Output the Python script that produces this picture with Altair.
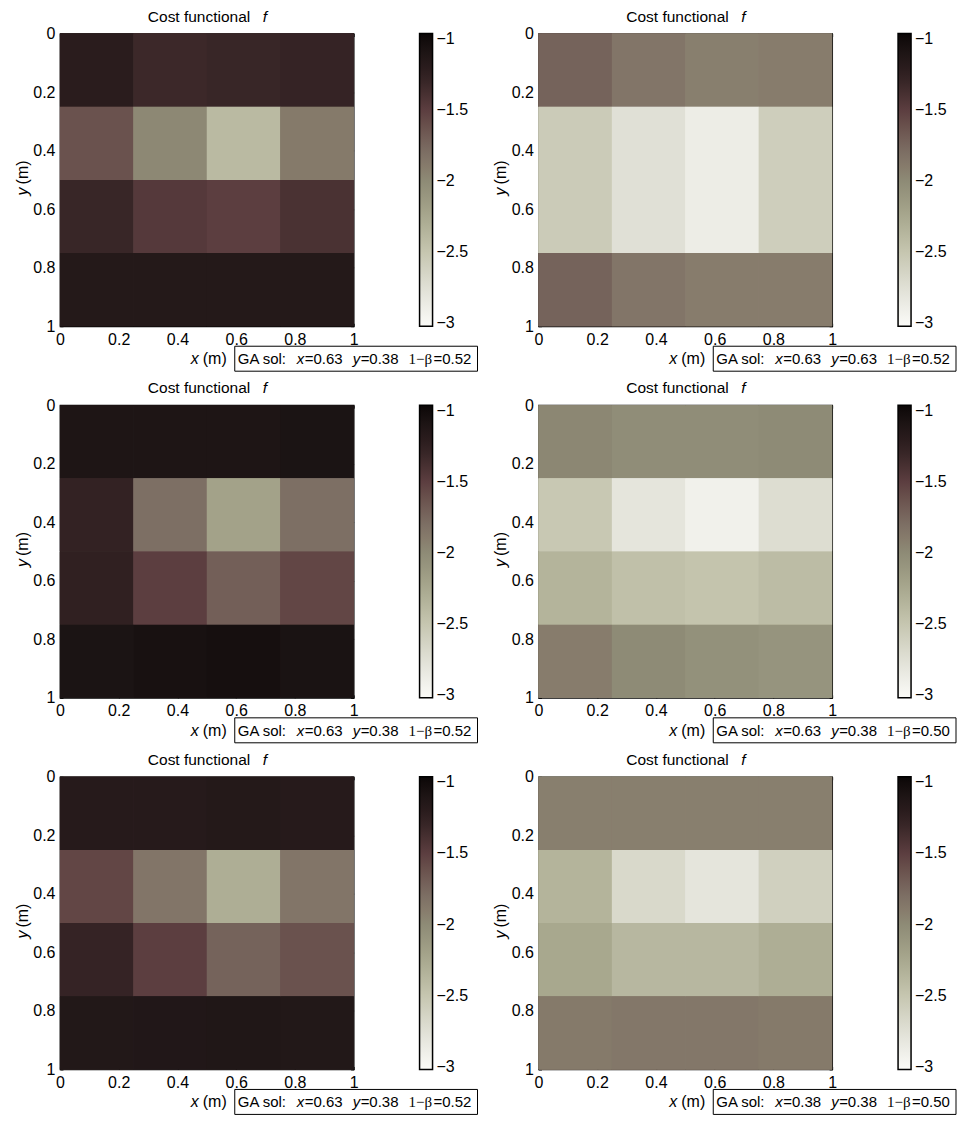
import altair as alt
import pandas as pd

# ---- data ----
X_EDGES = [0.0, 0.25, 0.5, 0.75, 1.0]
Y_EDGES = [0.0, 0.25, 0.5, 0.75, 1.0]
AXIS_TICKS = [0, 0.2, 0.4, 0.6, 0.8, 1]
CBAR_TICKS = [-3, -2.5, -2, -1.5, -1]
CMAP_STOPS = [-3.02, -2.75, -2.5, -2.25, -2.0, -1.75, -1.5, -1.25, -0.96]
CMAP_COLORS = ["#fbfbf8", "#e0e0d6", "#c6c6b0", "#a8a88e", "#8e8b76",
               "#786860", "#5c3e40", "#302021", "#0a0606"]

P1 = [[-1.20, -1.32, -1.30, -1.28],
      [-1.62, -1.98, -2.40, -1.88],
      [-1.30, -1.46, -1.50, -1.40],
      [-1.15, -1.15, -1.15, -1.15]]
P2 = [[-1.72, -1.85, -1.92, -1.90],
      [-2.55, -2.75, -2.88, -2.58],
      [-2.55, -2.75, -2.88, -2.58],
      [-1.72, -1.85, -1.90, -1.90]]
P3 = [[-1.10, -1.10, -1.10, -1.08],
      [-1.27, -1.80, -2.20, -1.80],
      [-1.25, -1.50, -1.70, -1.55],
      [-1.08, -1.05, -1.03, -1.07]]
P4 = [[-1.97, -2.02, -2.02, -2.00],
      [-2.52, -2.80, -2.92, -2.72],
      [-2.35, -2.45, -2.48, -2.42],
      [-1.90, -2.00, -2.05, -2.08]]
P5 = [[-1.17, -1.17, -1.15, -1.17],
      [-1.55, -1.85, -2.30, -1.85],
      [-1.28, -1.50, -1.72, -1.62],
      [-1.14, -1.13, -1.12, -1.14]]
P6 = [[-1.92, -1.92, -1.92, -1.92],
      [-2.35, -2.68, -2.80, -2.60],
      [-2.25, -2.38, -2.38, -2.30],
      [-1.88, -1.86, -1.86, -1.88]]
PANELS = [P1, P2, P3, P4, P5, P6]
GA_X = [0.63, 0.63, 0.63, 0.63, 0.63, 0.38]
GA_Y = [0.38, 0.63, 0.38, 0.38, 0.38, 0.38]
GA_B = [0.52, 0.52, 0.52, 0.50, 0.52, 0.50]

FONT = "Liberation Sans"
SERIF = "Liberation Serif"
FS = 16
FS_TITLE = 15.5
FS_BOX = 15
W, H = 294, 293
CB_X = 360       # colorbar left edge (px from plot left)
CB_T = 13        # colorbar thickness


def text_layer(df, x, y, text, italic=False, font=FONT, angle=0,
               align="left", size=FS):
    kw = dict(align=align, baseline="middle", font=font, fontSize=size,
              fontStyle="italic" if italic else "normal", color="black")
    if angle:
        kw["angle"] = angle
    return alt.Chart(df).mark_text(**kw).encode(
        x=alt.value(x), y=alt.value(y), text=text)


def panel(F, gx, gy, gb):
    rows = []
    for i in range(4):
        for j in range(4):
            rows.append(dict(x0=X_EDGES[j], x1=X_EDGES[j + 1],
                             y0=Y_EDGES[i], y1=Y_EDGES[i + 1], f=F[i][j]))
    df = pd.DataFrame(rows)
    ann = pd.DataFrame({"gx": [f"={gx:.2f}"], "gy": [f"={gy:.2f}"],
                        "gb": [f"={gb:.2f}"]})
    cb = pd.DataFrame({"v": CBAR_TICKS})

    xs = alt.Scale(domain=[0, 1], nice=False, zero=False)
    ys = alt.Scale(domain=[0, 1], reverse=True, nice=False, zero=False)
    cs = alt.Scale(domain=CMAP_STOPS, range=CMAP_COLORS, type="linear",
                   clamp=True)
    cbs = alt.Scale(domain=[CMAP_STOPS[0], CMAP_STOPS[-1]], nice=False,
                    zero=False)
    common = dict(values=AXIS_TICKS, tickSize=3, offset=-3, domain=False,
                  grid=False, tickColor="black", tickWidth=1, title=None,
                  minExtent=0)
    lab = dict(labelFont=FONT, labelFontSize=FS, labelColor="black",
               format="~g", labelFlush=False, labelOverlap=False)

    legend = alt.Legend(
        orient="none", legendX=CB_X, legendY=0, direction="vertical",
        gradientLength=H, gradientThickness=CB_T, values=CBAR_TICKS,
        format="~g", labelFont=FONT, labelFontSize=FS, labelColor="black",
        labelOffset=4, gradientStrokeColor="black", gradientStrokeWidth=1.5,
        title=None, padding=0, labelOverlap=False)
    heat = alt.Chart(df).mark_rect().encode(
        x=alt.X("x0:Q", scale=xs,
                axis=alt.Axis(orient="bottom", labelPadding=5, **lab, **common)),
        x2="x1:Q",
        y=alt.Y("y0:Q", scale=ys,
                axis=alt.Axis(orient="left", labelPadding=5, **lab, **common)),
        y2="y1:Q",
        color=alt.Color("f:Q", scale=cs, legend=legend),
    )
    # the same cells drawn again on top (no axes), so that no background
    # shows through the anti-aliased seams between adjacent cells
    heat_b = alt.Chart(df).mark_rect().encode(
        x=alt.X("x0:Q", scale=xs, axis=None),
        x2="x1:Q",
        y=alt.Y("y0:Q", scale=ys, axis=None),
        y2="y1:Q",
        color=alt.Color("f:Q", scale=cs, legend=legend),
    )
    frame = alt.Chart(df).mark_rect(opacity=0).encode(
        x=alt.X("x0:Q", scale=xs,
                axis=alt.Axis(orient="top", labels=False, **common)),
        x2="x1:Q",
        y=alt.Y("y0:Q", scale=ys,
                axis=alt.Axis(orient="right", labels=False, **common)),
        y2="y1:Q",
    )
    # inner tick marks of the colour bar (both sides)
    cb_left = alt.Chart(cb).mark_rule(color="black", strokeWidth=1).encode(
        y=alt.Y("v:Q", scale=cbs, axis=None),
        x=alt.value(CB_X), x2=alt.value(CB_X + 3))
    cb_right = alt.Chart(cb).mark_rule(color="black", strokeWidth=1).encode(
        y=alt.Y("v:Q", scale=cbs, axis=None),
        x=alt.value(CB_X + CB_T - 3), x2=alt.value(CB_X + CB_T))

    box = alt.Chart(ann).mark_rect(fill="white", stroke="black",
                                   strokeWidth=1).encode(
        x=alt.value(175), x2=alt.value(418), y=alt.value(313), y2=alt.value(338))

    layers = [
        heat, heat_b, heat_b, frame, cb_left, cb_right, box,
        # title
        text_layer(ann, 88, -17, alt.value("Cost functional"), size=FS_TITLE),
        text_layer(ann, 203, -17, alt.value("f"), italic=True, size=FS_TITLE),
        # axis titles
        text_layer(ann, 131, 326, alt.value("x"), italic=True),
        text_layer(ann, 143, 326, alt.value("(m)")),
        text_layer(ann, -37, 158, alt.value("y"), italic=True, angle=270,
                   align="center"),
        text_layer(ann, -37, 139, alt.value("(m)"), angle=270, align="center"),
        # GA solution box
        text_layer(ann, 178, 326, alt.value("GA sol:"), size=FS_BOX),
        text_layer(ann, 237, 326, alt.value("x"), italic=True, size=FS_BOX),
        text_layer(ann, 245, 326, "gx:N", size=FS_BOX),
        text_layer(ann, 293, 326, alt.value("y"), italic=True, size=FS_BOX),
        text_layer(ann, 301, 326, "gy:N", size=FS_BOX),
        text_layer(ann, 349, 326, alt.value("1\u2212\u03b2"), font=SERIF,
                   size=FS_BOX),
        text_layer(ann, 374, 326, "gb:N", size=FS_BOX),
    ]
    return alt.layer(*layers).resolve_axis(
        x="independent", y="independent").resolve_scale(
        y="independent").properties(width=W, height=H)


panels = [panel(PANELS[k], GA_X[k], GA_Y[k], GA_B[k]) for k in range(6)]

chart = alt.concat(
    *panels, columns=2, spacing={"row": 79, "column": 185}, bounds="flush"
).resolve_scale(color="independent").properties(
    padding={"left": 6, "top": 0, "right": 0, "bottom": 0},
    background="white",
).configure_view(stroke="black", strokeWidth=1.2)

chart.save("out.html", embed_options={"renderer": "svg", "actions": False})
